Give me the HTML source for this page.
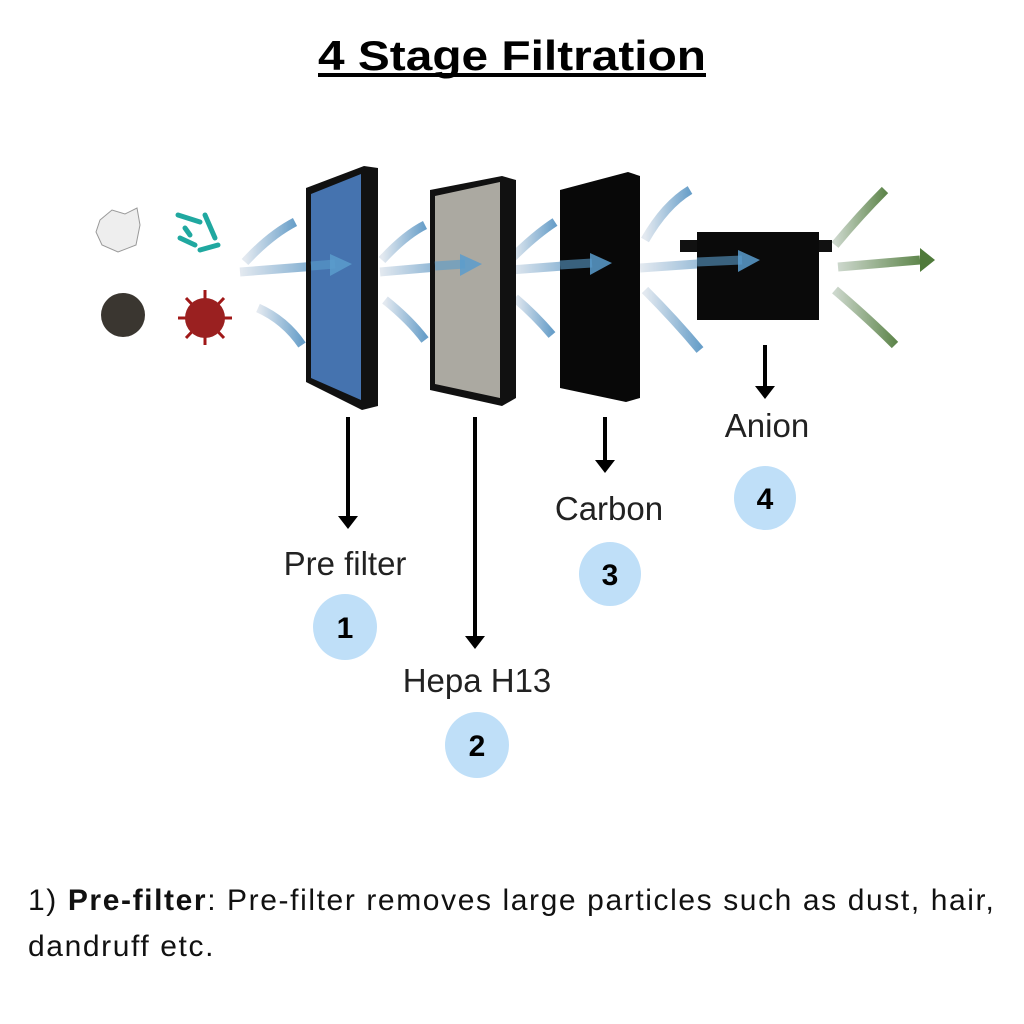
<!DOCTYPE html>
<html><head><meta charset="utf-8"><style>
html,body{margin:0;padding:0;background:#fff;}
body{width:1024px;height:1024px;position:relative;overflow:hidden;font-family:"Liberation Sans",sans-serif;}
.t{position:absolute;white-space:nowrap;}
</style></head><body>
<svg width="1024" height="1024" style="position:absolute;left:0;top:0">
<defs>
<linearGradient id="ab" x1="0" x2="1"><stop offset="0" stop-color="#dfe6ee"/><stop offset="1" stop-color="#4f8fc0"/></linearGradient>
<linearGradient id="ag" x1="0" x2="1"><stop offset="0" stop-color="#c8d4c8"/><stop offset="1" stop-color="#4f7a3a"/></linearGradient>
</defs>
<!-- particles -->
<path d="M100 220 L112 210 L125 214 L137 208 L140 225 L136 245 L118 252 L102 245 L96 232Z" fill="#eee" stroke="#999"/>
<g stroke="#20a8a0" stroke-width="5" stroke-linecap="round"><line x1="178" y1="215" x2="200" y2="222"/><line x1="205" y1="215" x2="215" y2="238"/><line x1="180" y1="238" x2="195" y2="245"/><line x1="200" y1="250" x2="218" y2="245"/><line x1="185" y1="228" x2="190" y2="235"/></g>
<circle cx="123" cy="315" r="22" fill="#3a3630"/>
<g stroke="#a01818" stroke-width="3"><line x1="205" y1="290" x2="205" y2="345"/><line x1="178" y1="318" x2="232" y2="318"/><line x1="186" y1="298" x2="224" y2="338"/><line x1="224" y1="298" x2="186" y2="338"/></g>
<circle cx="205" cy="318" r="20" fill="#9a2020"/>
<!-- flow arrows -->
<g fill="none" stroke="url(#ab)" stroke-width="9" opacity="0.85">
<path d="M240 272 L330 265"/><path d="M245 262 Q270 235 295 222"/><path d="M258 308 Q285 320 302 345"/>
<path d="M380 272 L460 265"/><path d="M382 260 Q405 235 425 225"/><path d="M385 300 Q410 320 425 340"/>
<path d="M510 270 L590 264"/><path d="M512 258 Q535 235 555 222"/><path d="M515 298 Q535 315 552 335"/>
<path d="M640 268 L740 261"/><path d="M645 240 Q665 205 690 190"/><path d="M645 290 Q675 320 700 350"/>
</g>
<g fill="none" stroke="url(#ag)" stroke-width="9" opacity="0.9">
<path d="M838 267 L920 260"/><path d="M835 245 Q860 215 885 190"/><path d="M835 290 Q870 320 895 345"/>
</g>
<polygon points="920,248 935,260 920,272" fill="#4f7a3a"/>
<!-- filter 1 -->
<polygon points="306,188 364,166 378,168 378,406 362,410 306,382" fill="#111"/>
<polygon points="311,194 361,174 361,400 311,378" fill="#4a7cbd" opacity="0.92"/>
<!-- filter 2 -->
<polygon points="430,190 502,176 516,180 516,398 502,406 430,390" fill="#111"/>
<polygon points="435,196 500,182 500,398 435,384" fill="#b8b6ae" opacity="0.92"/>
<!-- filter 3 -->
<polygon points="560,190 628,172 640,176 640,398 626,402 560,388" fill="#080808"/>
<!-- anion -->
<rect x="680" y="240" width="152" height="12" fill="#111"/>
<rect x="697" y="232" width="122" height="88" fill="#0a0a0a"/>
<!-- flow overlays -->
<g fill="none" stroke="#5a9ccc" stroke-width="9" opacity="0.6">
<path d="M311 266 L335 264"/><path d="M435 266 L465 264"/><path d="M560 265 L592 263"/><path d="M697 262 L742 260"/></g>
<g fill="#5a9ccc" opacity="0.85"><polygon points="330,254 352,264 330,276"/><polygon points="460,254 482,264 460,276"/><polygon points="590,253 612,263 590,275"/><polygon points="738,250 760,260 738,272"/></g>
<!-- down arrows -->
<g stroke="#000" stroke-width="4"><line x1="348" y1="417" x2="348" y2="518"/><line x1="475" y1="417" x2="475" y2="638"/><line x1="605" y1="417" x2="605" y2="462"/><line x1="765" y1="345" x2="765" y2="388"/></g>
<g fill="#000"><polygon points="338,516 358,516 348,529"/><polygon points="465,636 485,636 475,649"/><polygon points="595,460 615,460 605,473"/><polygon points="755,386 775,386 765,399"/></g>
<g fill="#bfdff8"><ellipse cx="345" cy="627" rx="32" ry="33"/><ellipse cx="477" cy="745" rx="32" ry="33"/><ellipse cx="610" cy="574" rx="31" ry="32"/><ellipse cx="765" cy="498" rx="31" ry="32"/></g>
<g font-family="Liberation Sans, sans-serif" font-weight="bold" font-size="30" text-anchor="middle" fill="#000">
<text x="345" y="638">1</text><text x="477" y="756">2</text><text x="610" y="585">3</text><text x="765" y="509">4</text></g>
<g font-family="Liberation Sans, sans-serif" font-size="33" text-anchor="middle" fill="#222">
<text x="345" y="575">Pre filter</text><text x="477" y="692">Hepa H13</text><text x="609" y="520">Carbon</text><text x="767" y="437">Anion</text></g>
<text x="512" y="70" text-anchor="middle" font-family="Liberation Sans, sans-serif" font-weight="bold" font-size="42" fill="#000" textLength="388" lengthAdjust="spacingAndGlyphs">4 Stage Filtration</text>
<rect x="318" y="73" width="388" height="4" fill="#000"/>
</svg>
<div class="t" style="left:28px;top:878px;font-size:30px;letter-spacing:1.6px;line-height:46px;color:#111">1) <b>Pre-filter</b>: Pre-filter removes large particles such as dust, hair,<br>dandruff etc.</div>
</body></html>
